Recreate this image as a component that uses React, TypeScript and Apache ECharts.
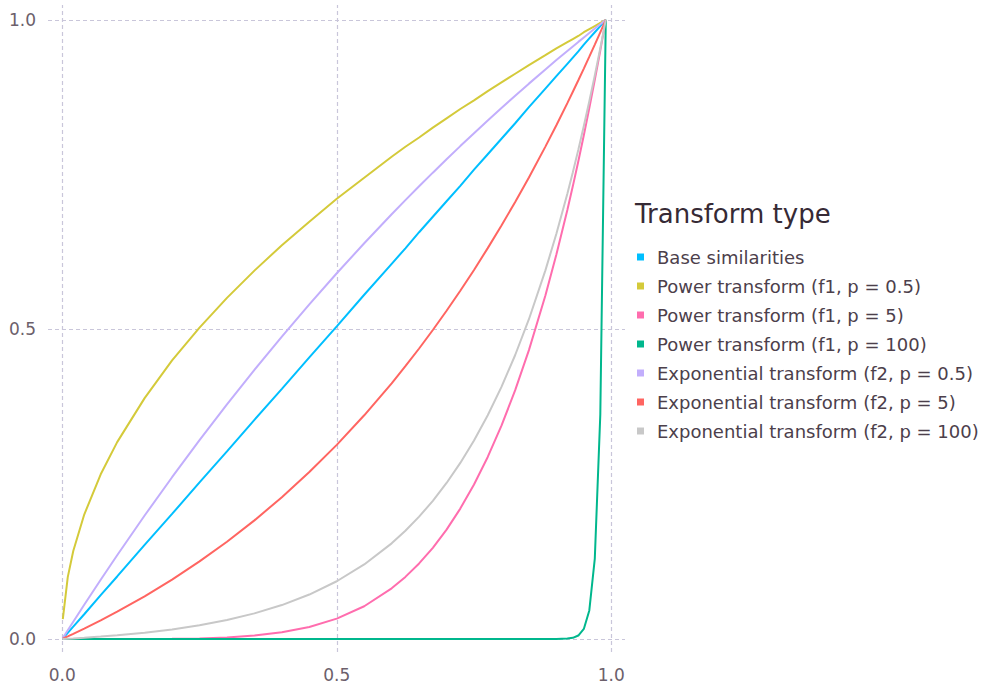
import React, { useEffect, useRef } from 'react';
import * as echarts from 'echarts';

// x: base similarity values
const similarity = [0.001, 0.01, 0.02, 0.04, 0.07, 0.1, 0.15, 0.2, 0.25, 0.3, 0.35, 0.4, 0.45, 0.5, 0.55, 0.6, 0.625, 0.65, 0.675, 0.7, 0.725, 0.75, 0.775, 0.8, 0.825, 0.85, 0.88, 0.9, 0.92, 0.93, 0.94, 0.95, 0.96, 0.97, 0.98, 0.99];

const baseSimilarities = [0.001, 0.010, 0.020, 0.040, 0.071, 0.101, 0.152, 0.202, 0.253, 0.303, 0.354, 0.404, 0.455, 0.505, 0.556, 0.606, 0.631, 0.657, 0.682, 0.707, 0.732, 0.758, 0.783, 0.808, 0.833, 0.859, 0.889, 0.909, 0.929, 0.939, 0.949, 0.960, 0.970, 0.980, 0.990, 1.0];
const powerP05 = [0.032, 0.100, 0.142, 0.201, 0.266, 0.318, 0.389, 0.450, 0.503, 0.551, 0.595, 0.636, 0.674, 0.711, 0.745, 0.779, 0.795, 0.810, 0.826, 0.841, 0.856, 0.870, 0.885, 0.899, 0.913, 0.927, 0.943, 0.954, 0.964, 0.969, 0.974, 0.980, 0.985, 0.990, 0.995, 1.0];
const powerP5 = [0, 0, 0, 0, 0, 0, 0.0001, 0.0003, 0.001, 0.0026, 0.0055, 0.0108, 0.0194, 0.0329, 0.0529, 0.0818, 0.1003, 0.122, 0.1473, 0.1767, 0.2106, 0.2495, 0.294, 0.3446, 0.4019, 0.4666, 0.5549, 0.6209, 0.693, 0.7315, 0.7717, 0.8137, 0.8574, 0.903, 0.9505, 1.0];
const powerP100 = [0, 0, 0, 0, 0, 0, 0, 0, 0, 0, 0, 0, 0, 0, 0, 0, 0, 0, 0, 0, 0, 0, 0, 0, 0, 0, 0, 0.0001, 0.0007, 0.0019, 0.0056, 0.0162, 0.0461, 0.1299, 0.3623, 1.0];
const expP05 = [0.0014, 0.014, 0.0278, 0.0552, 0.0957, 0.1352, 0.1994, 0.2613, 0.3212, 0.3789, 0.4347, 0.4885, 0.5405, 0.5907, 0.6392, 0.686, 0.7088, 0.7312, 0.7532, 0.7749, 0.7961, 0.817, 0.8376, 0.8577, 0.8775, 0.897, 0.9199, 0.935, 0.9498, 0.9571, 0.9644, 0.9716, 0.9788, 0.9859, 0.993, 1.0];
const expP5 = [0.0004, 0.0041, 0.0083, 0.0168, 0.0301, 0.0441, 0.069, 0.096, 0.1254, 0.1571, 0.1916, 0.229, 0.2696, 0.3136, 0.3613, 0.413, 0.4406, 0.4692, 0.4991, 0.5301, 0.5625, 0.5961, 0.6313, 0.6678, 0.7059, 0.7455, 0.7953, 0.8298, 0.8655, 0.8838, 0.9024, 0.9213, 0.9405, 0.96, 0.9799, 1.0];
const expP100 = [0, 0.0005, 0.001, 0.0021, 0.0039, 0.006, 0.0102, 0.0155, 0.0222, 0.0307, 0.0414, 0.0548, 0.0718, 0.0933, 0.1204, 0.1545, 0.1748, 0.1976, 0.2232, 0.252, 0.2844, 0.3206, 0.3614, 0.4072, 0.4587, 0.5165, 0.5954, 0.6545, 0.7193, 0.754, 0.7904, 0.8285, 0.8685, 0.9103, 0.9541, 1.0];

const seriesNames = [
  'Base similarities',
  'Power transform (f1, p = 0.5)',
  'Power transform (f1, p = 5)',
  'Power transform (f1, p = 100)',
  'Exponential transform (f2, p = 0.5)',
  'Exponential transform (f2, p = 5)',
  'Exponential transform (f2, p = 100)',
];
const seriesColors = ['#00BFFF', '#D4CA3A', '#FF6DAE', '#00B78D', '#C2AEFC', '#FF6561', '#C8C8C8'];

const xTicks = [0, 0.5, 1];
const yTicks = [0, 0.5, 1];
const legendTitle = 'Transform type';

export default function App() {
  const ref = useRef<HTMLDivElement>(null);
  useEffect(() => {
    if (!ref.current) return;
    const chart = echarts.init(ref.current, null, { renderer: 'svg' });
    const font = "'DejaVu Sans', Verdana, sans-serif";
    const allValues = [baseSimilarities, powerP05, powerP5, powerP100, expP05, expP5, expP100];
    const series: any[] = allValues.map((vals, i) => {
      const s: any = {
        name: seriesNames[i],
        type: 'line',
        data: similarity.map((x, j) => [x, vals[j]]),
        showSymbol: false,
        smooth: false,
        lineStyle: { width: 2, color: seriesColors[i] },
        itemStyle: { color: seriesColors[i] },
        emphasis: { disabled: true },
        z: 2,
      };
      if (i === 0) {
        s.markLine = {
          silent: true,
          symbol: 'none',
          z: 1,
          animation: false,
          label: { show: false },
          emphasis: { disabled: true },
          lineStyle: { color: '#C9C6DA', type: [4, 3], width: 1.2 },
          data: [...xTicks.map((v) => ({ xAxis: v })), ...yTicks.map((v) => ({ yAxis: v }))],
        };
      }
      return s;
    });
    chart.setOption({
      animation: false,
      backgroundColor: '#ffffff',
      title: {
        text: legendTitle,
        left: 635,
        top: 201,
        padding: 0,
        textStyle: { fontSize: 26, fontWeight: 'normal', color: '#362A35', fontFamily: font },
      },
      legend: {
        data: seriesNames,
        orient: 'vertical',
        left: 637,
        top: 248,
        padding: 0,
        icon: 'rect',
        itemWidth: 7,
        itemHeight: 7,
        itemGap: 11,
        selectedMode: false,
        textStyle: { fontSize: 18, color: '#4C404B', fontFamily: font, lineHeight: 18, padding: [0, 0, 0, 8] },
      },
      grid: { left: 48, top: 5, width: 577, height: 647, containLabel: false },
      xAxis: {
        type: 'value',
        min: -0.026,
        max: 1.025,
        axisLine: { show: false },
        axisTick: { show: false },
        splitLine: { show: false },
        axisLabel: {
          customValues: xTicks,
          formatter: (v: number) => v.toFixed(1),
          fontSize: 17,
          color: '#6C606B',
          fontFamily: font,
          margin: 14,
        },
      },
      yAxis: {
        type: 'value',
        min: -0.021,
        max: 1.024,
        axisLine: { show: false },
        axisTick: { show: false },
        splitLine: { show: false },
        axisLabel: {
          customValues: yTicks,
          formatter: (v: number) => v.toFixed(1),
          fontSize: 17,
          color: '#6C606B',
          fontFamily: font,
          margin: 12,
        },
      },
      series,
    });
    return () => chart.dispose();
  }, []);
  return (
    <div
      ref={ref}
      style={{ position: 'fixed', left: 0, top: 0, width: 995, height: 689, background: '#fff' }}
    />
  );
}
